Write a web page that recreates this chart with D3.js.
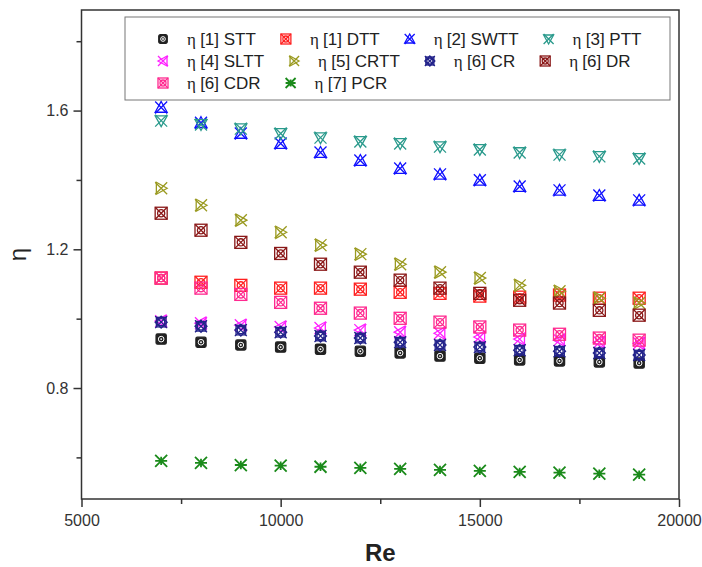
<!DOCTYPE html>
<html>
<head>
<meta charset="utf-8">
<script src="https://cdn.jsdelivr.net/npm/d3@7"></script>
<style>
  body { margin: 0; background: #fff; }
  svg { font-family: "Liberation Sans", Arial, sans-serif; }
</style>
</head>
<body>
<div id="chart"></div>
<script>
// Reynolds numbers
const reValues = [7000, 8000, 9000, 10000, 11000, 12000, 13000, 14000, 15000, 16000, 17000, 18000, 19000];

// efficiency values
const stt  = [0.941, 0.932, 0.924, 0.918, 0.912, 0.906, 0.901, 0.892, 0.886, 0.881, 0.878, 0.875, 0.872];
const dtt  = [1.117, 1.105, 1.096, 1.088, 1.088, 1.085, 1.076, 1.073, 1.065, 1.062, 1.068, 1.059, 1.059];
const swtt = [1.609, 1.565, 1.534, 1.505, 1.479, 1.456, 1.433, 1.416, 1.399, 1.381, 1.370, 1.355, 1.341];
const ptt  = [1.571, 1.560, 1.548, 1.534, 1.522, 1.511, 1.505, 1.496, 1.488, 1.479, 1.473, 1.468, 1.462];
const sltt = [0.993, 0.987, 0.981, 0.976, 0.973, 0.967, 0.961, 0.958, 0.947, 0.941, 0.938, 0.932, 0.929];
const crtt = [1.376, 1.327, 1.284, 1.249, 1.212, 1.186, 1.157, 1.134, 1.117, 1.096, 1.079, 1.059, 1.045];
const cr   = [0.990, 0.978, 0.967, 0.961, 0.950, 0.944, 0.932, 0.924, 0.918, 0.909, 0.906, 0.901, 0.895];
const dr   = [1.304, 1.255, 1.220, 1.188, 1.157, 1.134, 1.111, 1.088, 1.073, 1.053, 1.045, 1.024, 1.010];
const cdr  = [1.117, 1.088, 1.070, 1.047, 1.030, 1.016, 1.001, 0.990, 0.976, 0.967, 0.955, 0.944, 0.938];
const pcr  = [0.590, 0.584, 0.578, 0.576, 0.573, 0.570, 0.567, 0.564, 0.561, 0.558, 0.556, 0.553, 0.550];

const seriesRefs  = ["[1] STT", "[1] DTT", "[2] SWTT", "[3] PTT", "[4] SLTT", "[5] CRTT", "[6] CR", "[6] DR", "[6] CDR", "[7] PCR"];
const seriesData  = [stt, dtt, swtt, ptt, sltt, crtt, cr, dr, cdr, pcr];
const seriesColor = ["#222222", "#ff2020", "#1010ff", "#2a9a8c", "#ff20ff", "#9a9a20", "#22228a", "#8a1818", "#ff2a90", "#1a8a1a"];
const seriesShape = ["solidSquare", "squareCircle", "xTriUp", "xTriDown", "xTriLeft", "xTriRight", "diamondCircle", "squareCircle", "squareCircle", "star"];

const xTicks = [5000, 10000, 15000, 20000];
const xMinor = [7500, 12500, 17500];
const yTicks = [0.8, 1.2, 1.6];
const yMinor = [0.6, 1.0, 1.4, 1.8];

const legendRows = [[0, 1, 2, 3], [4, 5, 6, 7], [8, 9]];

const width = 702, height = 567;
const margin = {top: 10, right: 23, bottom: 68, left: 81.5};
const w = width - margin.left - margin.right;
const h = height - margin.top - margin.bottom;

const xScale = d3.scaleLinear().domain([5000, 20000]).range([0, w]);
const yScale = d3.scaleLinear().domain([0.48, 1.89]).range([h, 0]);

const svg = d3.select("#chart").append("svg")
  .attr("width", width)
  .attr("height", height);

const g = svg.append("g")
  .attr("transform", `translate(${margin.left},${margin.top})`);

// marker drawing, size r is the half width
const drawMarker = (sel, shape, color, r) => {
  const m = sel.append("g")
    .attr("fill", "none")
    .attr("stroke", color)
    .attr("stroke-width", 1.3);
  const cross = () => {
    m.append("path").attr("d", `M${-r},${-r}L${r},${r}M${-r},${r}L${r},${-r}`);
  };
  if (shape === "solidSquare") {
    const s = r * 0.85;
    m.append("rect").attr("x", -s).attr("y", -s).attr("width", 2 * s).attr("height", 2 * s)
      .attr("rx", 1.5).attr("fill", color);
    m.append("circle").attr("r", s * 0.55).attr("stroke", "#fff").attr("stroke-width", 1);
    m.append("circle").attr("r", 0.9).attr("fill", "#fff").attr("stroke", "none");
  } else if (shape === "squareCircle") {
    m.append("rect").attr("x", -r).attr("y", -r).attr("width", 2 * r).attr("height", 2 * r);
    m.append("circle").attr("r", r * 0.6);
    cross();
  } else if (shape === "diamondCircle") {
    m.append("path").attr("d", `M0,${-r}L${r},0L0,${r}L${-r},0Z`);
    m.append("circle").attr("r", r * 0.6);
    m.append("rect").attr("x", -r * 0.8).attr("y", -r * 0.8).attr("width", 1.6 * r).attr("height", 1.6 * r);
    cross();
  } else if (shape === "xTriUp") {
    cross();
    m.append("path").attr("d", `M0,${-r}L${r},${r * 0.8}L${-r},${r * 0.8}Z`);
  } else if (shape === "xTriDown") {
    cross();
    m.append("path").attr("d", `M0,${r}L${r},${-r * 0.8}L${-r},${-r * 0.8}Z`);
  } else if (shape === "xTriLeft") {
    cross();
    m.append("path").attr("d", `M${-r},0L${r * 0.8},${-r}L${r * 0.8},${r}Z`);
  } else if (shape === "xTriRight") {
    cross();
    m.append("path").attr("d", `M${r},0L${-r * 0.8},${-r}L${-r * 0.8},${r}Z`);
  } else if (shape === "star") {
    m.attr("stroke-width", 1.8);
    m.append("path").attr("d", `M${-r},${-r}L${r},${r}M${-r},${r}L${r},${-r}M${-r},0L${r},0M0,${-r * 0.7}L0,${r * 0.7}`);
  }
};

// points
seriesData.forEach((values, i) => {
  const layer = g.append("g").attr("class", "series");
  values.forEach((v, j) => {
    const p = layer.append("g")
      .attr("transform", `translate(${xScale(reValues[j])},${yScale(v)})`);
    drawMarker(p, seriesShape[i], seriesColor[i], 6);
  });
});

// axes
const axisColor = "#333";

const bottomAxis = d3.axisBottom(xScale).tickValues(xTicks).tickSize(8).tickPadding(8).tickFormat(d3.format("d"));
const bottomMinor = d3.axisBottom(xScale).tickValues(xMinor).tickSize(5).tickFormat("");
const leftAxis = d3.axisLeft(yScale).tickValues(yTicks).tickSize(8).tickPadding(5).tickFormat(d3.format(".1f"));
const leftMinor = d3.axisLeft(yScale).tickValues(yMinor).tickSize(5).tickFormat("");

const styleAxis = (sel) => {
  sel.select(".domain").remove();
  sel.selectAll("line").attr("stroke", axisColor).attr("stroke-width", 1.5);
  sel.selectAll("text").attr("fill", "#333").style("font-size", "16px");
};

g.append("g").attr("transform", `translate(0,${h})`).call(bottomAxis).call(styleAxis);
g.append("g").attr("transform", `translate(0,${h})`).call(bottomMinor).call(styleAxis);
g.append("g").call(leftAxis).call(styleAxis);
g.append("g").call(leftMinor).call(styleAxis);

// frame
g.append("rect")
  .attr("x", 0).attr("y", 0)
  .attr("width", w).attr("height", h)
  .attr("fill", "none")
  .attr("stroke", axisColor)
  .attr("stroke-width", 1.5);

// axis titles
svg.append("text")
  .attr("x", margin.left + w / 2)
  .attr("y", 561)
  .attr("text-anchor", "middle")
  .style("font-size", "24px")
  .style("font-weight", "bold")
  .attr("fill", "#222")
  .text("Re");

svg.append("text")
  .attr("transform", `translate(26,${margin.top + h / 2}) rotate(-90)`)
  .attr("text-anchor", "middle")
  .style("font-size", "24px")
  .attr("fill", "#222")
  .text("η");

// legend
const legend = svg.append("g").attr("class", "legend");
legend.append("rect")
  .attr("x", 125).attr("y", 17)
  .attr("width", 545).attr("height", 83)
  .attr("fill", "#fff")
  .attr("stroke", "#777")
  .attr("stroke-width", 1);

const rowY = [39, 61, 83];
legendRows.forEach((row, ri) => {
  let x = 163;
  row.forEach((si) => {
    const sym = legend.append("g").attr("transform", `translate(${x},${rowY[ri]})`);
    drawMarker(sym, seriesShape[si], seriesColor[si], 5);
    const t = legend.append("text")
      .attr("x", x + 24)
      .attr("y", rowY[ri] + 6)
      .style("font-size", "17px")
      .attr("fill", "#222");
    t.append("tspan").style("font-family", "'Liberation Serif', serif").text("η ");
    t.append("tspan").text(seriesRefs[si]);
    x = x + 24 + t.node().getComputedTextLength() + 30;
  });
});
</script>
</body>
</html>
